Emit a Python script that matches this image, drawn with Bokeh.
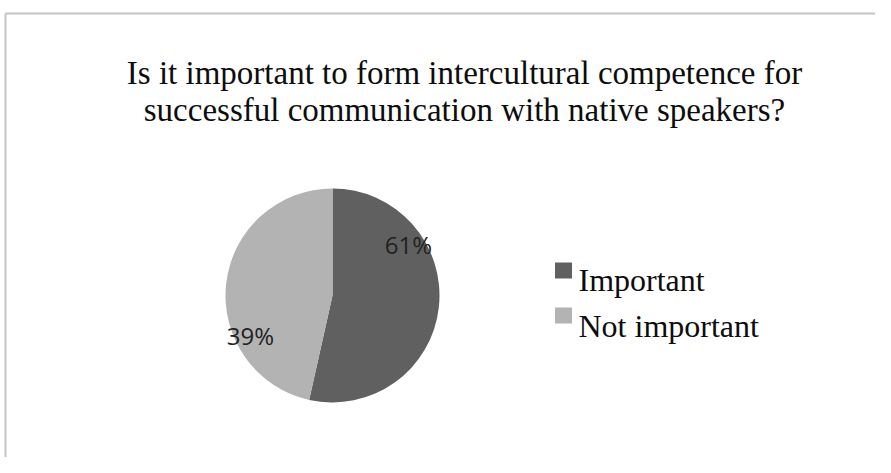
import numpy as np
from bokeh.plotting import figure
from bokeh.models import ColumnDataSource, Range1d
from bokeh.core.properties import value
from bokeh.embed import file_html
from bokeh.resources import INLINE

# ---- data ----
title_lines = ["Is it important to form intercultural competence for",
               "successful communication with native speakers?"]
categories = ["Important", "Not important"]
slice_share = [53.5, 46.5]          # slice sizes as drawn in the picture
label_text = ["61%", "39%"]         # data labels as printed
colors = ["#606060", "#b3b3b3"]

# ---- layout (px from the top-left of the picture) ----
W, H = 875, 457


def fy(sy):
    return H - sy


p = figure(width=W, height=H, output_backend="svg", toolbar_location=None,
           x_range=Range1d(0, W), y_range=Range1d(0, H),
           min_border=0)
p.axis.visible = False
p.grid.visible = False
p.outline_line_color = None
p.background_fill_color = "white"
p.border_fill_color = "white"

# frame border lines (top and left)
p.segment(x0=[5, 5], y0=[fy(13), fy(13)], x1=[W, 5], y1=[fy(13), 0],
          line_color="#c4c4c4", line_width=2)

# title
p.text(x=[464, 464], y=[fy(72), fy(109)], text=title_lines,
       text_font=value("Liberation Serif"), text_font_size="33px",
       text_align="center", text_baseline="alphabetic", text_color="#0d0d0d")

# pie
cx, cy, r = 332, fy(295), 107
fr = np.array(slice_share) / np.sum(slice_share)
ends_cum = np.cumsum(fr)
starts_cum = ends_cum - fr
start_angle = np.pi / 2 - 2 * np.pi * starts_cum
end_angle = np.pi / 2 - 2 * np.pi * ends_cum
src = ColumnDataSource(dict(start=start_angle, end=end_angle, color=colors, cat=categories))
p.wedge(x=cx, y=cy, radius=r, start_angle="start", end_angle="end", direction="clock",
        fill_color="color", line_color=None, source=src)

# data labels
p.text(x=[408, 250], y=[fy(244), fy(335)], text=label_text,
       text_font=value("Open Sans"), text_font_size="24px",
       text_align="center", text_baseline="middle", text_color="#222222")

# legend (manual)
leg_y = [fy(270), fy(315)]
p.rect(x=[563, 563], y=leg_y, width=17, height=16, fill_color=colors, line_color=None)
p.text(x=[578, 578], y=[fy(279), fy(325)], text=categories,
       text_font=value("Liberation Serif"), text_font_size="32px",
       text_align="left", text_baseline="alphabetic", text_color="#0d0d0d")

open("out.html", "w").write(file_html(p, INLINE))
